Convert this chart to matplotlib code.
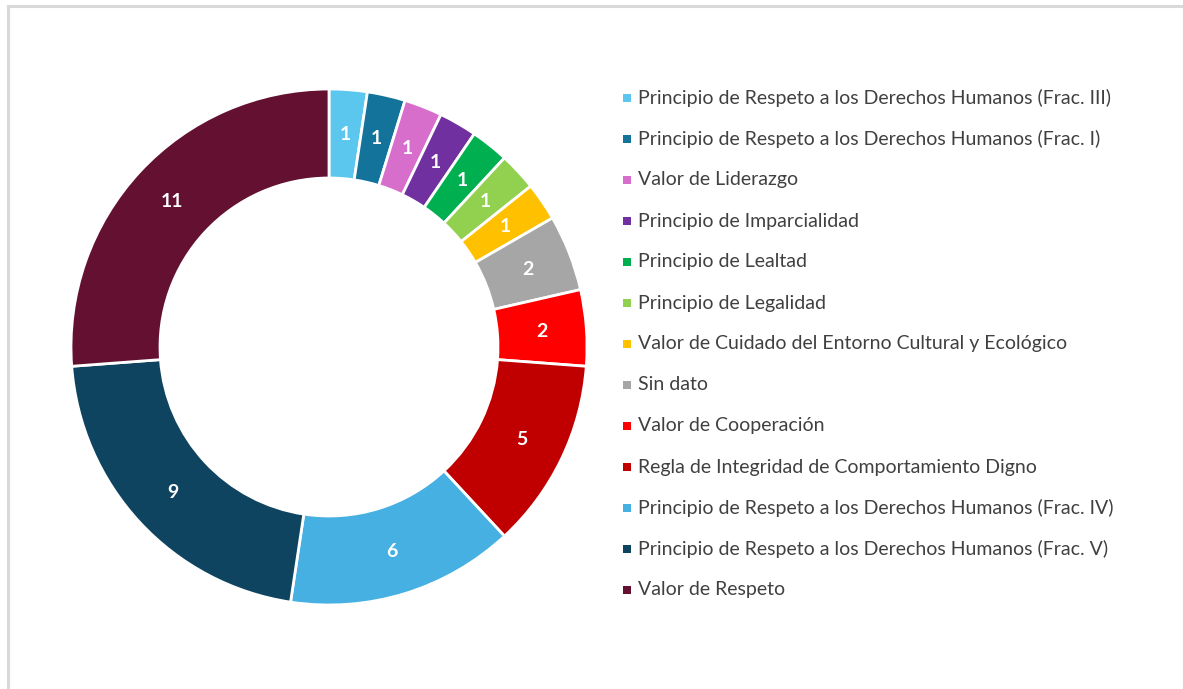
import matplotlib
matplotlib.use("Agg")
import matplotlib.pyplot as plt
from matplotlib.patches import Rectangle
from matplotlib.lines import Line2D
import numpy as np

categories = [
    "Principio de Respeto a los Derechos Humanos (Frac. III)",
    "Principio de Respeto a los Derechos Humanos (Frac. I)",
    "Valor de Liderazgo",
    "Principio de Imparcialidad",
    "Principio de Lealtad",
    "Principio de Legalidad",
    "Valor de Cuidado del Entorno Cultural y Ecológico",
    "Sin dato",
    "Valor de Cooperación",
    "Regla de Integridad de Comportamiento Digno",
    "Principio de Respeto a los Derechos Humanos (Frac. IV)",
    "Principio de Respeto a los Derechos Humanos (Frac. V)",
    "Valor de Respeto",
]
values = [1, 1, 1, 1, 1, 1, 1, 2, 2, 5, 6, 9, 11]
colors = ["#5BC7EF", "#14739B", "#D86ECC", "#7030A0", "#00B050", "#92D050",
          "#FFC000", "#A6A6A6", "#FF0000", "#C00000", "#45B0E1", "#0E4460",
          "#641131"]

W, H = 1183, 689
fig = plt.figure(figsize=(W / 100, H / 100), dpi=100)
fig.patch.set_facecolor("white")

# frame lines (light gray)
fig.add_artist(Line2D([8 / W, 8 / W], [0, 1 - 6 / H], color="#D9D9D9", lw=2.2,
                      transform=fig.transFigure))
fig.add_artist(Line2D([8 / W, 1], [1 - 6 / H, 1 - 6 / H], color="#D9D9D9", lw=2.2,
                      transform=fig.transFigure))

cx, cy, R = 329, 347, 258
ax = fig.add_axes([(cx - R) / W, (H - cy - R) / H, 2 * R / W, 2 * R / H])
width = 0.345
wedges, _ = ax.pie(values, colors=colors, startangle=90, counterclock=False,
                   radius=1, wedgeprops=dict(width=width, edgecolor="white", linewidth=2))
ax.set_xlim(-1, 1)
ax.set_ylim(-1, 1)
ax.set_aspect("auto")
ax.axis("off")

rlab = 1 - width / 2
for w, v in zip(wedges, values):
    ang = np.deg2rad((w.theta1 + w.theta2) / 2)
    ax.text(rlab * np.cos(ang), rlab * np.sin(ang), str(v), ha="center", va="center",
            color="white", fontsize=14, fontweight="bold", family="Lato")

# legend
x_sq, x_txt = 623, 638
y0, dy = 98, 41
sq = 8
for i, (lab, c) in enumerate(zip(categories, colors)):
    y = y0 + i * dy
    fig.add_artist(Rectangle(((x_sq) / W, (H - y - sq / 2) / H), sq / W, sq / H,
                             facecolor=c, edgecolor="none", transform=fig.transFigure))
    fig.text(x_txt / W, (H - y) / H, lab, ha="left", va="center", color="#404040",
             fontsize=14, family="Lato")

fig.savefig("out.png", dpi=100)
